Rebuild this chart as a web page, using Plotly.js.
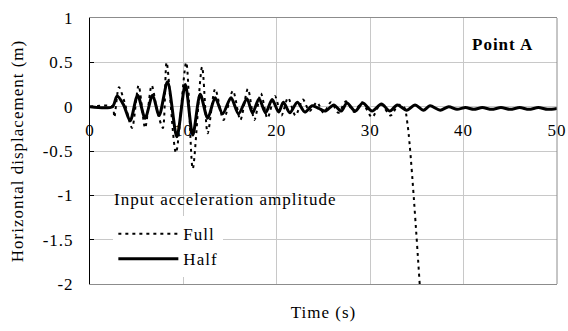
<!DOCTYPE html>
<html>
<head>
<meta charset="utf-8">
<script src="https://cdn.plot.ly/plotly-3.0.1.min.js"></script>
<style>
html,body{margin:0;padding:0;background:#fff;}
text{letter-spacing:1px;}
</style>
</head>
<body>
<div id="chart" style="width:568px;height:331px;"></div>
<script>
// Time (s) and horizontal displacement (m)
const timeFull = [0, 2.4, 2.6, 3.1, 3.7, 4.5, 5.2, 5.9, 6.6, 7.2, 7.8, 8.2, 9.2, 10.3, 11.0, 12.0, 12.6, 13.4, 14.3, 15.3, 16.1, 16.9, 17.6, 18.3, 19.0, 19.8, 20.5, 21.2, 22.0, 22.8, 23.5, 24.3, 25.0, 25.8, 26.6, 27.4, 28.3, 29.1, 30.2, 31.1, 32.2, 33.0, 33.6, 34.0, 35.3];
const dispFull = [0, 0, -0.12, 0.22, 0.05, -0.24, 0.24, -0.24, 0.24, -0.05, -0.24, 0.5, -0.52, 0.5, -0.7, 0.45, -0.3, 0.2, -0.15, 0.18, -0.15, 0.2, -0.15, 0.15, -0.13, 0.12, -0.1, 0.1, -0.1, 0.08, -0.05, 0.05, -0.07, 0.05, -0.07, 0.06, -0.06, 0.05, -0.12, 0.03, -0.1, 0.02, 0.0, -0.2, -2.0];

const timeHalf = [0, 2.4, 2.9, 3.6, 4.3, 5.1, 5.9, 6.7, 7.4, 8.3, 9.3, 10.2, 11.0, 11.8, 12.6, 13.4, 14.2, 15.1, 15.9, 16.8, 17.4, 18.1, 18.8, 19.5, 20.2, 20.7, 21.4, 22.2, 23.0, 23.8, 24.5, 25.2, 26.1, 26.9, 27.5, 28.4, 29.2, 30.2, 31.2, 32.1, 32.9, 33.9, 34.8, 35.7, 36.4, 37.5, 38.4, 39.3, 40.2, 41.1, 42.0, 43.0, 44.0, 45.0, 46.0, 47.0, 48.0, 49.0, 50.0];
const dispHalf = [0, 0, 0.12, 0.02, -0.16, 0.13, -0.13, 0.13, -0.1, 0.28, -0.34, 0.25, -0.32, 0.14, -0.13, 0.1, -0.08, 0.1, -0.08, 0.09, -0.07, 0.09, -0.07, 0.08, -0.06, 0.05, -0.07, 0.05, -0.06, 0.01, -0.02, -0.05, 0.02, -0.05, 0.04, -0.05, 0.04, -0.05, 0.03, -0.05, 0.02, -0.04, 0.02, -0.04, 0.01, -0.04, 0.0, -0.03, -0.01, -0.03, -0.01, -0.03, -0.01, -0.03, -0.01, -0.03, -0.01, -0.03, -0.02];

const seriesNames = ["Full", "Half"];
const xTicks = [0, 10, 20, 30, 40, 50];
const yTicks = [1, 0.5, 0, -0.5, -1, -1.5, -2];
const legendHeading = "Input acceleration amplitude";
const panelLabel = "Point A";

const serif = "'Liberation Serif', 'Times New Roman', serif";
const fs = 17;

const traces = [
  {
    x: timeFull, y: dispFull, name: seriesNames[0], type: "scatter", mode: "lines",
    xaxis: "x", yaxis: "y",
    line: {color: "#000", width: 2, dash: "3px,4px", shape: "spline", smoothing: 0.8}
  },
  {
    x: timeHalf, y: dispHalf, name: seriesNames[1], type: "scatter", mode: "lines",
    xaxis: "x2", yaxis: "y",
    line: {color: "#000", width: 3, shape: "spline", smoothing: 0.8}
  }
];

const layout = {
  width: 568, height: 331,
  margin: {l: 90, r: 11, t: 18, b: 47},
  paper_bgcolor: "#fff", plot_bgcolor: "#fff",
  font: {family: serif, size: fs, color: "#000"},
  showlegend: true,
  legend: {
    x: 0.05, y: 0.255, xanchor: "left", yanchor: "top",
    bgcolor: "#fff", borderwidth: 0,
    font: {family: serif, size: fs, color: "#000"},
    itemwidth: 60, tracegroupgap: 0
  },
  xaxis: {
    range: [0, 50], tickvals: xTicks, showticklabels: false, ticks: "",
    showgrid: true, gridcolor: "#c8c8c8", gridwidth: 1, zeroline: false,
    showline: true, linecolor: "#8c8c8c", linewidth: 1, mirror: true,
    title: {text: "Time (s)", font: {family: serif, size: fs, color: "#000"}, standoff: 22}
  },
  xaxis2: {
    range: [0, 50], tickvals: xTicks, ticktext: xTicks.map(String),
    overlaying: "x", anchor: "free", position: 2/3,
    showgrid: false, zeroline: false, showline: false, ticks: "",
    ticklabelstandoff: 11,
    tickfont: {family: serif, size: fs, color: "#000"}
  },
  yaxis: {
    range: [-2, 1], tickvals: yTicks, ticktext: yTicks.map(String),
    showgrid: true, gridcolor: "#c8c8c8", gridwidth: 1, zeroline: false,
    showline: true, linecolor: "#000", linewidth: 1,
    ticks: "inside", ticklen: 4, tickcolor: "#000",
    ticklabelstandoff: 12,
    tickfont: {family: serif, size: fs, color: "#000"},
    title: {text: "Horizontal displacement (m)", font: {family: serif, size: fs, color: "#000"}, standoff: 14}
  },
  shapes: [
    {type: "line", xref: "paper", yref: "paper", x0: 1, x1: 1, y0: 0, y1: 1,
     line: {color: "#8c8c8c", width: 1}}
  ],
  annotations: [
    {text: legendHeading, xref: "paper", yref: "paper", x: 0.048, y: 0.316,
     xanchor: "left", yanchor: "middle", showarrow: false,
     font: {family: serif, size: fs, color: "#000"}},
    {text: "<b>" + panelLabel + "</b>", xref: "paper", yref: "paper", x: 0.952, y: 0.902,
     xanchor: "right", yanchor: "middle", showarrow: false,
     font: {family: serif, size: fs, color: "#000"}}
  ]
};

Plotly.newPlot("chart", traces, layout, {displayModeBar: false, staticPlot: true});
</script>
</body>
</html>
